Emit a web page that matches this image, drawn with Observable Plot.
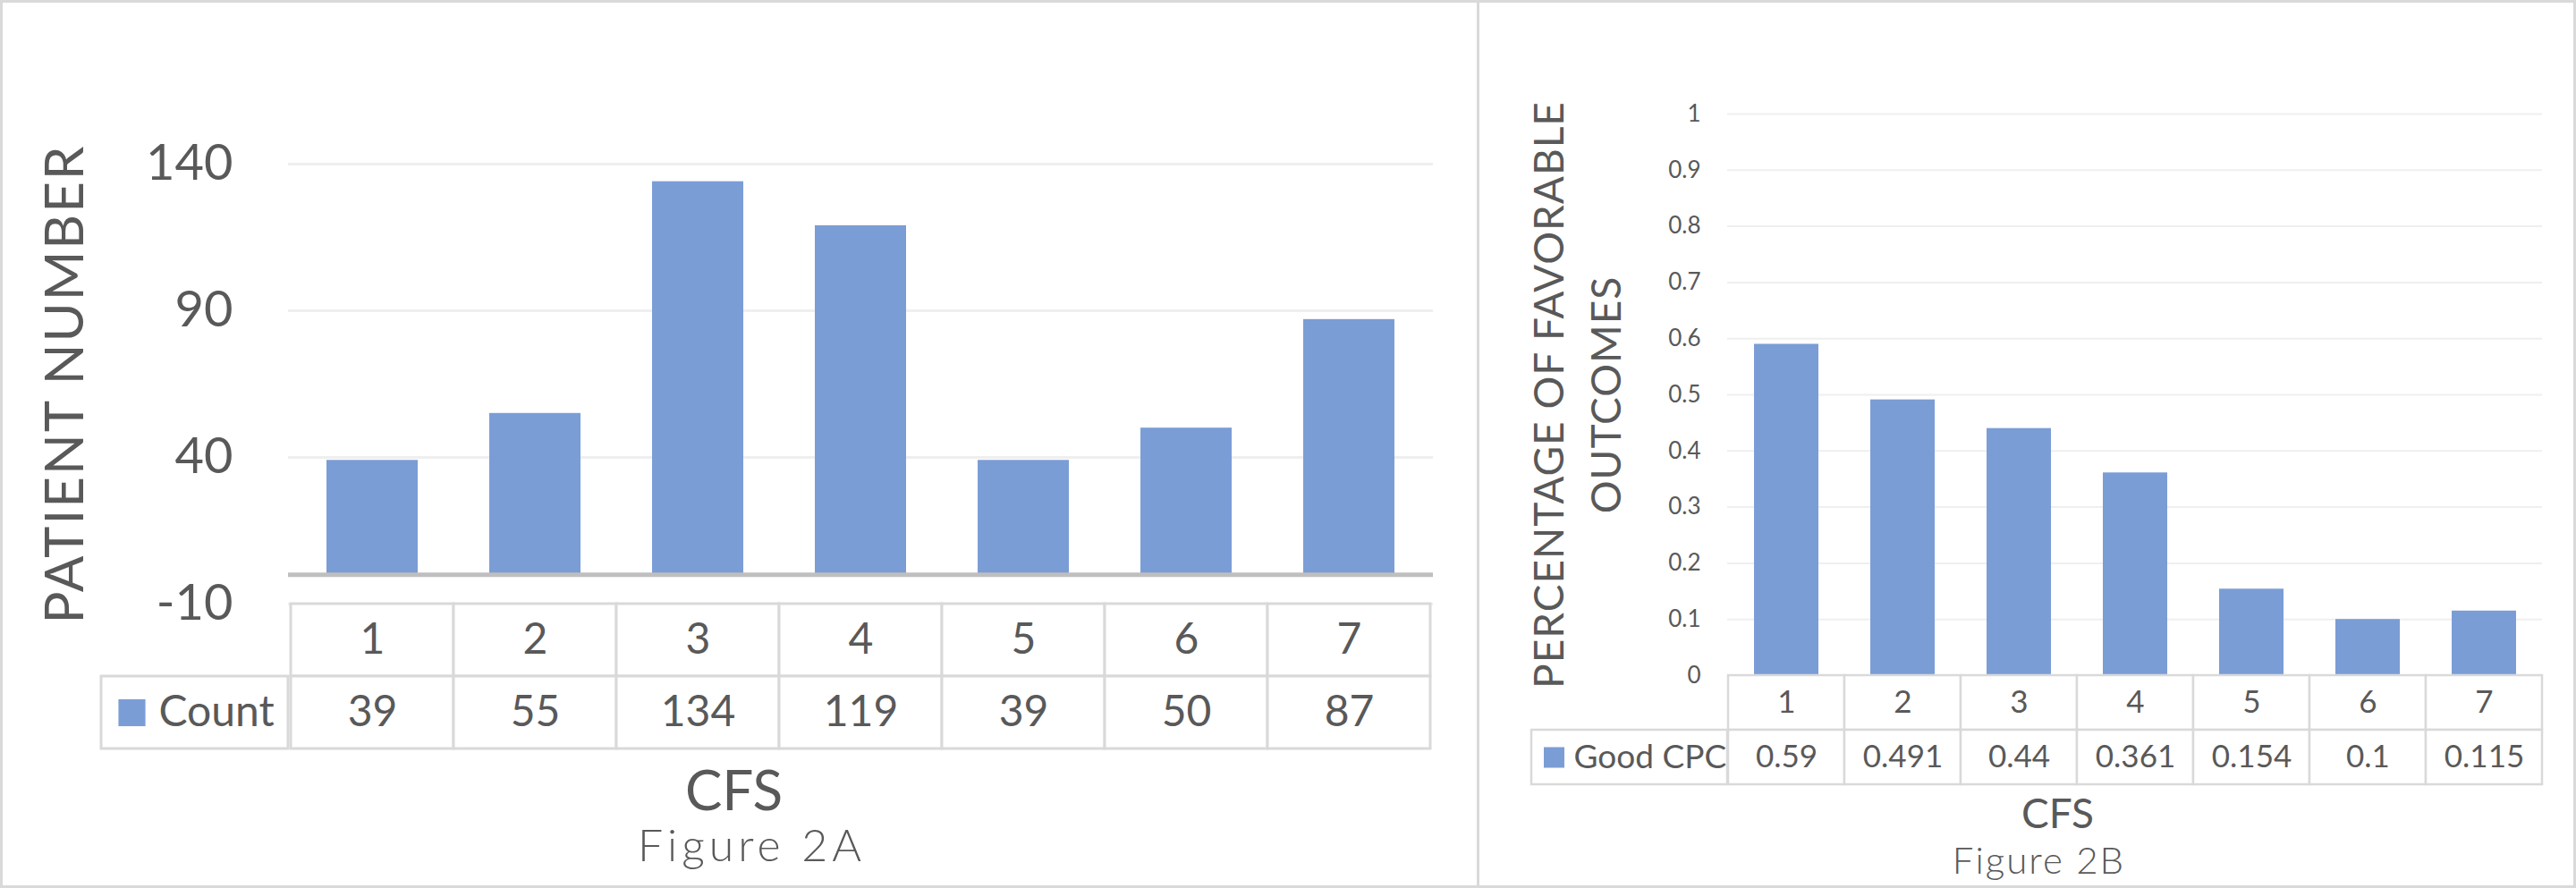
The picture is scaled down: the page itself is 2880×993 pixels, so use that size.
<!DOCTYPE html>
<html><head><meta charset="utf-8">
<script src="https://cdn.jsdelivr.net/npm/d3@7"></script>
<script src="https://cdn.jsdelivr.net/npm/@observablehq/plot@0.6"></script>
<style>
html,body{margin:0;padding:0;background:#fff;}
#wrap{position:relative;width:2880px;height:993px;overflow:hidden;font-family:Lato,"Open Sans",sans-serif;background:#fff;}
.panel{position:absolute;box-sizing:border-box;border:3px solid #d9d9d9;}
#wrap svg{position:absolute;background:transparent;max-width:none;}
</style></head><body><div id="wrap"></div>
<script>
// ---- data ----
const cfs = [1, 2, 3, 4, 5, 6, 7];
const counts = [39, 55, 134, 119, 39, 50, 87];
const goodCPC = [0.59, 0.491, 0.44, 0.361, 0.154, 0.1, 0.115];
const goodCPCLabels = ["0.59", "0.491", "0.44", "0.361", "0.154", "0.1", "0.115"];
const ticksA = [-10, 40, 90, 140];
const ticksB = [0, 0.1, 0.2, 0.3, 0.4, 0.5, 0.6, 0.7, 0.8, 0.9, 1];
const seriesA = "Count";
const seriesB = "Good CPC";
const yTitleA = "PATIENT NUMBER";
const yTitleB = ["PERCENTAGE OF FAVORABLE", "OUTCOMES"];
const xTitle = "CFS";
const captionA = "Figure 2A";
const captionB = "Figure 2B";

const BAR = "#7b9dd6";
const TXT = "#595959";
const GRID = "#efefef";
const LINE = "#d9d9d9";
const FONT = "Lato, 'Open Sans', sans-serif";

const dataA = cfs.map((c, i) => ({cfs: c, value: counts[i], label: String(counts[i])}));
const dataB = cfs.map((c, i) => ({cfs: c, value: goodCPC[i], label: goodCPCLabels[i]}));

const wrap = document.getElementById("wrap");
function panel(l, t, w, h) {
  const d = document.createElement("div");
  d.className = "panel";
  Object.assign(d.style, {left: l + "px", top: t + "px", width: w + "px", height: h + "px"});
  wrap.appendChild(d);
}
panel(0, 0, 1654, 993);
panel(1651, 0, 1229, 993);

function place(svg, l, t) {
  svg.style.left = l + "px";
  svg.style.top = t + "px";
  wrap.appendChild(svg);
  return svg;
}

function chart(cfg) {
  const p = Plot.plot({
    width: cfg.width, height: cfg.height,
    marginLeft: cfg.ml, marginRight: cfg.mr, marginTop: cfg.mt, marginBottom: 0,
    style: {fontFamily: FONT, color: TXT, background: "transparent", overflow: "visible"},
    x: {type: "band", domain: cfs, padding: 0, axis: null},
    y: {domain: cfg.domain, axis: null},
    marks: [
      Plot.gridY(cfg.ticks, {stroke: GRID, strokeOpacity: 1, strokeWidth: cfg.gridW}),
      Plot.axisY({ticks: cfg.ticks, tickSize: 0, tickPadding: cfg.tickPad, fontSize: cfg.tickFont, fill: TXT, label: null, tickFormat: cfg.fmt}),
      Plot.barY(cfg.data, {x: "cfs", y: "value", fill: BAR, insetLeft: cfg.inset, insetRight: cfg.inset}),
      Plot.ruleY([0], {stroke: cfg.baseColor, strokeWidth: cfg.baseW}),
      ...cfg.titles.map(t => Plot.text([t.text], {frameAnchor: "left", text: d => d, rotate: -90, textAnchor: "middle", lineAnchor: "middle", dx: t.dx, fontSize: cfg.titleFont, fill: TXT}))
    ]
  });
  const titles = cfg.titles.map(t => t.text);
  d3.select(p).selectAll("text").filter(function() { return titles.includes(this.textContent); })
    .attr("letter-spacing", cfg.titleSpacing);
  return p;
}

function table(cfg) {
  const rows = cfg.data;
  const p = Plot.plot({
    width: cfg.width, height: cfg.height,
    marginLeft: cfg.ml, marginRight: cfg.mr, marginTop: 0, marginBottom: cfg.mb,
    style: {fontFamily: FONT, color: TXT, background: "transparent", overflow: "visible"},
    x: {type: "band", domain: cfs, padding: 0, axis: null},
    y: {type: "band", domain: ["cfs", "value"], padding: 0, axis: null},
    marks: [
      Plot.cell(rows, {x: "cfs", y: () => "cfs", fill: "white", stroke: LINE, strokeWidth: cfg.lineW}),
      Plot.cell(rows, {x: "cfs", y: () => "value", fill: "white", stroke: LINE, strokeWidth: cfg.lineW}),
      Plot.text(rows, {x: "cfs", y: () => "cfs", text: d => String(d.cfs), fontSize: cfg.font, fill: TXT}),
      Plot.text(rows, {x: "cfs", y: () => "value", text: "label", fontSize: cfg.font, fill: TXT}),
      Plot.dot([cfg.series], {frameAnchor: "left", y: () => "value", symbol: "square", r: cfg.swR, fill: BAR, stroke: null, dx: cfg.swDx}),
      Plot.text([cfg.series], {frameAnchor: "left", y: () => "value", text: d => d, textAnchor: "start", dx: cfg.legDx, fontSize: cfg.legFont, fill: TXT}),
      Plot.text([xTitle], {frameAnchor: "bottom", text: d => d, textAnchor: "middle", lineAnchor: "bottom", dx: cfg.xtDx, dy: cfg.xtDy, fontSize: cfg.xtFont, fill: TXT}),
      Plot.text([cfg.caption], {frameAnchor: "bottom", text: d => d, textAnchor: "middle", lineAnchor: "bottom", dx: cfg.capDx, dy: cfg.capDy, fontSize: cfg.capFont, fontWeight: 300, fill: TXT})
    ]
  });
  // legend cell border (left of the value columns)
  const sy = p.scale("y");
  d3.select(p).insert("rect", ":first-child")
    .attr("x", cfg.ml + cfg.legLeft).attr("y", sy.apply("value"))
    .attr("width", -cfg.legLeft).attr("height", sy.bandwidth)
    .attr("fill", "white").attr("stroke", LINE).attr("stroke-width", cfg.lineW);
  d3.select(p).selectAll("text").filter(function() { return this.textContent === cfg.caption; })
    .attr("letter-spacing", cfg.capSpacing);
  return p;
}

// ---- Panel A ----
place(chart({
  width: 1654, height: 675, ml: 322, mr: 52, mt: 183,
  domain: [-10, 140], ticks: ticksA, data: dataA, inset: 40,
  gridW: 3, tickPad: 62, tickFont: 56, fmt: d => String(d),
  baseColor: "#bfbfbf", baseW: 5,
  titleFont: 60, titleSpacing: 2, titles: [{text: yTitleA, dx: 73 - 322}]
}), 0, 0);

place(table({
  width: 1654, height: 318, ml: 322, mr: 52, mb: 156,
  data: dataA, lineW: 3, font: 48, series: seriesA,
  swR: 17, swDx: 147 - 322, legDx: 177 - 322, legFont: 48, legLeft: 113 - 322,
  xtDx: 820 - 962, xtDy: 905 - 837, xtFont: 62,
  caption: captionA, capDx: 840 - 962, capDy: 962 - 837, capFont: 50, capSpacing: 5
}), 0, 675);

// ---- Panel B ----
place(chart({
  width: 1226, height: 755, ml: 277, mr: 38, mt: 127,
  domain: [0, 1], ticks: ticksB, data: dataB, inset: 29,
  gridW: 2, tickPad: 30, tickFont: 26, fmt: d => String(Math.round(d * 10) / 10),
  baseColor: LINE, baseW: 3,
  titleFont: 46, titleSpacing: 1, titles: [{text: yTitleB[0], dx: 1733 - 1931}, {text: yTitleB[1], dx: 1797 - 1931}]
}), 1654, 0);

place(table({
  width: 1226, height: 238, ml: 277, mr: 38, mb: 116,
  data: dataB, lineW: 2.5, font: 35, series: seriesB,
  swR: 13, swDx: 1737 - 1931, legDx: 1759 - 1931, legFont: 37, legLeft: 1712 - 1931,
  xtDx: 2300 - 2386.5, xtDy: 925 - 877, xtFont: 46,
  caption: captionB, capDx: 2279 - 2386.5, capDy: 976 - 877, capFont: 42, capSpacing: 2
}), 1654, 755);
</script></body></html>
